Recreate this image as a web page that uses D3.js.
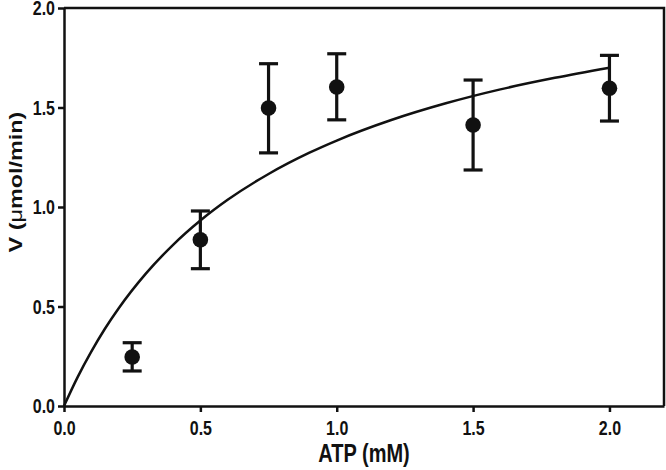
<!DOCTYPE html>
<html>
<head>
<meta charset="utf-8">
<script src="https://cdn.jsdelivr.net/npm/d3@7"></script>
<style>
  html, body { margin: 0; padding: 0; background: #fff; }
  svg { display: block; }
  text { font-family: "Liberation Sans", Arial, Helvetica, sans-serif; fill: #111; }
</style>
</head>
<body>
<svg id="chart" width="666" height="470"></svg>
<script>
// Measured data (ATP concentration in mM)
const atp = [0.25, 0.5, 0.75, 1.0, 1.5, 2.0];
const velocity = [0.246, 0.835, 1.497, 1.603, 1.412, 1.597];
const errUpper = [0.318, 0.980, 1.720, 1.770, 1.638, 1.762];
const errLower = [0.176, 0.690, 1.272, 1.438, 1.186, 1.432];

// Fitted curve
const curveX = [0, 0.05, 0.1, 0.15, 0.2, 0.3, 0.4, 0.5, 0.6, 0.75, 0.9, 1.0, 1.2, 1.4, 1.6, 1.8, 2.0];
const curveY = [0, 0.145, 0.273, 0.388, 0.490, 0.665, 0.810, 0.932, 1.036, 1.166, 1.273, 1.334, 1.437, 1.521, 1.591, 1.649, 1.700];

const xTicks = [0, 0.5, 1.0, 1.5, 2.0];
const yTicks = [0, 0.5, 1.0, 1.5, 2.0];

const svg = d3.select("#chart");
const mLeft = 64, mRight = 664, mTop = 8, mBottom = 406;
const stretch = 1.3;   // the reference text is drawn tall and narrow

const x = d3.scaleLinear().domain([0, 2.2]).range([mLeft, mRight]);
const y = d3.scaleLinear().domain([0, 2.0]).range([mBottom, mTop]);

// Frame (top and right)
svg.append("path")
  .attr("d", `M${mLeft},${mTop}H${mRight}V${mBottom}`)
  .attr("fill", "none").attr("stroke", "#111").attr("stroke-width", 2.5);

// Axes
const xAxis = svg.append("g").attr("transform", `translate(0,${mBottom})`)
  .call(d3.axisBottom(x).tickValues(xTicks).tickFormat(d3.format(".1f")).tickSize(6).tickSizeOuter(0));
const yAxis = svg.append("g").attr("transform", `translate(${mLeft},0)`)
  .call(d3.axisLeft(y).tickValues(yTicks).tickFormat(d3.format(".1f")).tickSize(6).tickSizeOuter(0));

[xAxis, yAxis].forEach(g => {
  g.select(".domain").attr("stroke", "#111").attr("stroke-width", 2.5);
  g.selectAll(".tick line").attr("stroke", "#111").attr("stroke-width", 2.5);
  g.selectAll(".tick text")
    .attr("fill", "#111")
    .style("font-family", '"Liberation Sans", Arial, sans-serif')
    .style("font-size", "16px")
    .style("font-weight", "bold");
});
xAxis.selectAll(".tick text")
  .attr("y", 29.5 / stretch).attr("dy", null)
  .attr("transform", `scale(1,${stretch})`);
yAxis.selectAll(".tick text")
  .attr("x", -9).attr("y", 6.8 / stretch).attr("dy", null)
  .attr("transform", `scale(1,${stretch})`);

// Curve
const line = d3.line().x((d, i) => x(curveX[i])).y((d, i) => y(curveY[i])).curve(d3.curveMonotoneX);
svg.append("path")
  .datum(curveX)
  .attr("d", line)
  .attr("fill", "none").attr("stroke", "#111").attr("stroke-width", 2.5);

// Error bars
const capW = 9.5;
const eb = svg.append("g").attr("stroke", "#111").attr("stroke-width", 3.2);
atp.forEach((a, i) => {
  eb.append("line").attr("x1", x(a)).attr("x2", x(a)).attr("y1", y(errUpper[i])).attr("y2", y(errLower[i]));
  eb.append("line").attr("x1", x(a) - capW).attr("x2", x(a) + capW).attr("y1", y(errUpper[i])).attr("y2", y(errUpper[i]));
  eb.append("line").attr("x1", x(a) - capW).attr("x2", x(a) + capW).attr("y1", y(errLower[i])).attr("y2", y(errLower[i]));
});

// Points
svg.append("g").selectAll("circle").data(atp).join("circle")
  .attr("cx", d => x(d))
  .attr("cy", (d, i) => y(velocity[i]))
  .attr("r", 7.8)
  .attr("fill", "#111");

// Axis titles
svg.append("text")
  .attr("transform", `translate(${(mLeft + mRight) / 2},462) scale(1,${stretch})`)
  .attr("text-anchor", "middle")
  .style("font-size", "20px").style("font-weight", "bold")
  .text("ATP (mM)");

const yt = svg.append("text")
  .attr("transform", `translate(22,182) rotate(-90) scale(${stretch},1)`)
  .attr("text-anchor", "middle")
  .style("font-size", "18px").style("font-weight", "bold");
yt.append("tspan").text("V (");
yt.append("tspan").style("font-weight", "normal").text("μ");
yt.append("tspan").text("mol/min)");
</script>
</body>
</html>
